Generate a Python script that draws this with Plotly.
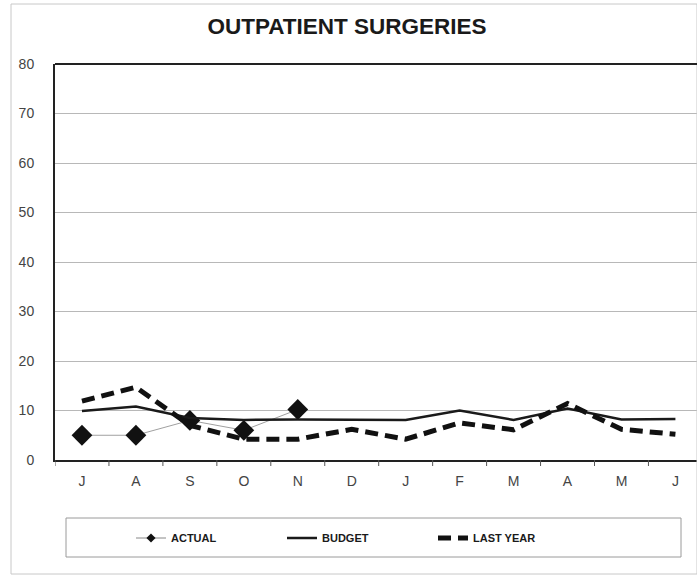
import plotly.graph_objects as go

months = ["J", "A", "S", "O", "N", "D", "J", "F", "M", "A", "M", "J"]
actual = [5, 5, 8, 6, 10.2]
budget = [9.9, 10.8, 8.5, 8.1, 8.2, 8.1, 8.1, 10.0, 8.1, 10.4, 8.2, 8.3]
last_year = [11.9, 14.7, 7.0, 4.2, 4.2, 6.2, 4.2, 7.5, 6.1, 11.4, 6.2, 5.2]
y_ticks = [0, 10, 20, 30, 40, 50, 60, 70, 80]

x_all = list(range(len(months)))
FONT = "Arial, Liberation Sans, sans-serif"

fig = go.Figure()
fig.add_trace(go.Scatter(
    x=x_all[:len(actual)], y=actual, name="ACTUAL", mode="lines+markers",
    line=dict(color="#a0a0a0", width=1),
    marker=dict(symbol="diamond", size=16, color="#111111"),
    showlegend=False,
))
# legend entry for the actual series with a small marker
fig.add_trace(go.Scatter(
    x=[None], y=[None], name="<b>ACTUAL</b>", mode="lines+markers",
    line=dict(color="#888888", width=1),
    marker=dict(symbol="diamond", size=7, color="#111111"),
))
fig.add_trace(go.Scatter(
    x=x_all, y=budget, name="<b>BUDGET</b>", mode="lines",
    line=dict(color="#1a1a1a", width=2.5),
))
fig.add_trace(go.Scatter(
    x=x_all, y=last_year, name="<b>LAST YEAR</b>", mode="lines",
    line=dict(color="#111111", width=5, dash="13px,7px"),
))

fig.update_layout(
    width=697, height=577,
    margin=dict(l=55, r=0, t=64, b=117),
    paper_bgcolor="white", plot_bgcolor="white",
    font=dict(family=FONT, color="#333333"),
    title=dict(text="<b>OUTPATIENT SURGERIES</b>", x=347 / 697, xanchor="center",
               xref="container", y=1 - 26 / 577, yanchor="middle", yref="container",
               font=dict(size=22.5, color="#1a1a1a", family=FONT)),
    showlegend=True,
    legend=dict(orientation="h", xref="container", yref="container",
                x=131 / 697, xanchor="left", y=1 - 538 / 577, yanchor="middle",
                font=dict(size=11, color="#1a1a1a", family=FONT),
                entrywidth=106, itemsizing="trace",
                bgcolor="rgba(0,0,0,0)", borderwidth=0),
    shapes=[
        dict(type="rect", xref="paper", yref="paper",
             x0=-55 / 642 + 11 / 642, x1=1.0, y0=-117 / 396 + 3 / 396, y1=1 + 60 / 396,
             line=dict(color="#c8c8c8", width=1)),
        dict(type="rect", xref="paper", yref="paper",
             x0=(66 - 55) / 642, x1=(681 - 55) / 642,
             y0=(460 - 557) / 396, y1=(460 - 518) / 396,
             line=dict(color="#9a9a9a", width=1)),
    ],
)
fig.update_xaxes(
    range=[-0.5, 11.4], tickvals=x_all, ticktext=months,
    showline=True, linecolor="#222222", linewidth=2, mirror=False,
    ticks="", showgrid=False, zeroline=False, ticklabelstandoff=7,
    tickfont=dict(size=14, color="#444444"),
)
# tick marks at category boundaries
for b in range(len(months) + 1):
    fig.add_shape(type="line", xref="x", yref="paper", x0=b - 0.5, x1=b - 0.5,
                  y0=0, y1=-6 / 396, line=dict(color="#555555", width=1))
fig.update_yaxes(
    range=[0, 80], tickvals=y_ticks, showgrid=True, gridcolor="#b8b8b8", gridwidth=1,
    showline=True, linecolor="#222222", linewidth=2, mirror=False,
    zeroline=False, ticks="", ticklabelstandoff=16,
    tickfont=dict(size=14, color="#444444"),
)
# top border of plot area
fig.add_shape(type="line", xref="paper", yref="paper", x0=0, x1=1, y0=1, y1=1,
              line=dict(color="#222222", width=2))

fig.write_html("out.html")
